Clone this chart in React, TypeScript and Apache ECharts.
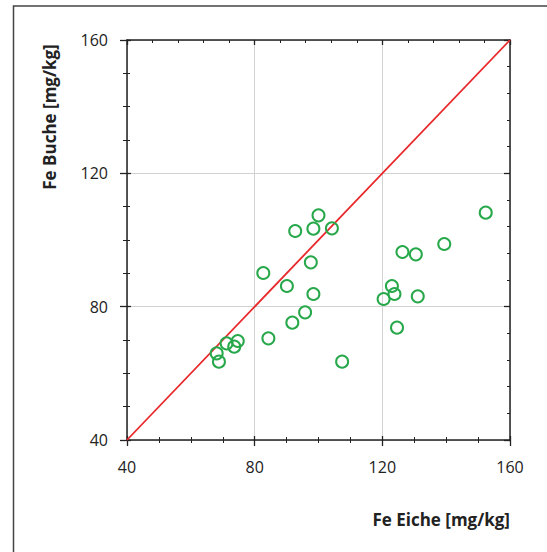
import React, { useEffect, useRef } from "react";
import * as echarts from "echarts";

const feEiche = [100.0, 92.7, 98.4, 104.2, 152.4, 139.4, 126.3, 130.5, 82.7, 97.6, 90.1, 98.4, 123.0, 123.8, 120.4, 131.1, 95.8, 91.8, 124.6, 84.3, 107.4, 71.2, 74.7, 73.6, 68.1, 68.8];
const feBuche = [107.4, 102.7, 103.4, 103.5, 108.2, 98.8, 96.4, 95.7, 90.1, 93.3, 86.2, 83.8, 86.2, 83.8, 82.3, 83.1, 78.3, 75.2, 73.7, 70.5, 63.5, 69.0, 69.7, 68.0, 66.0, 63.5];
const lineX = [40, 160];
const lineY = [40, 160];
const axisMin = 40;
const axisMax = 160;
const axisStep = 40;
const xTitle = "Fe Eiche [mg/kg]";
const yTitle = "Fe Buche [mg/kg]";

const FONT = "'Open Sans', 'Noto Sans', sans-serif";
const AXIS_COLOR = "#222";

function makeAxis(opts: any) {
  return {
    type: "value",
    min: axisMin,
    max: axisMax,
    interval: axisStep,
    axisLine: { show: opts.line ?? false, lineStyle: { color: AXIS_COLOR, width: 1.5 } },
    axisTick: {
      show: true,
      inside: opts.inside,
      length: opts.major,
      lineStyle: { color: AXIS_COLOR, width: 1.3 },
    },
    minorTick: {
      show: true,
      splitNumber: opts.split,
      length: opts.minor,
      lineStyle: { color: AXIS_COLOR, width: 1 },
    },
    axisLabel: opts.labels
      ? { show: true, color: "#222", fontSize: 16, fontFamily: FONT, margin: opts.margin }
      : { show: false },
    splitLine: opts.grid ? { show: true, lineStyle: { color: "#d2d2d2", width: 1 } } : { show: false },
    position: opts.position,
  };
}

export default function App() {
  const ref = useRef<HTMLDivElement>(null);
  useEffect(() => {
    if (!ref.current) return;
    const chart = echarts.init(ref.current, null, { renderer: "svg" });
    const scatterData = feEiche.map((x, i) => [x, feBuche[i]]);
    const lineData = lineX.map((x, i) => [x, lineY[i]]);
    chart.setOption({
      animation: false,
      grid: { left: 127, right: 37, top: 40, bottom: 112, containLabel: false },
      xAxis: [
        makeAxis({ position: "bottom", inside: false, major: 6, minor: 3, split: 4, labels: true, margin: 19, grid: true, line: true }),
        makeAxis({ position: "bottom", inside: true, major: 4, minor: 3, split: 4 }),
        makeAxis({ position: "top", inside: true, major: 5, minor: 3, split: 5, line: true }),
      ],
      yAxis: [
        makeAxis({ position: "left", inside: false, major: 7, minor: 4, split: 4, labels: true, margin: 19, grid: true, line: true }),
        makeAxis({ position: "left", inside: true, major: 4, minor: 3, split: 4 }),
        makeAxis({ position: "right", inside: true, major: 6, minor: 3, split: 5, line: true }),
      ],
      graphic: [
        {
          type: "rect",
          shape: { x: 13.5, y: 6, width: 700, height: 700 },
          style: { fill: "none", stroke: "#444", lineWidth: 1.5 },
          silent: true,
        },
        {
          type: "text",
          x: 510,
          y: 519,
          style: {
            text: xTitle,
            font: `bold 17px ${FONT}`,
            fill: "#222",
            align: "right",
            verticalAlign: "middle",
          },
        },
        {
          type: "text",
          x: 49,
          y: 117,
          rotation: Math.PI / 2,
          style: {
            text: yTitle,
            font: `bold 17px ${FONT}`,
            fill: "#222",
            align: "center",
            verticalAlign: "middle",
          },
        },
      ],
      series: [
        {
          type: "line",
          data: lineData,
          xAxisIndex: 0,
          yAxisIndex: 0,
          showSymbol: false,
          symbol: "none",
          lineStyle: { color: "#e8282b", width: 1.8 },
          z: 3,
        },
        {
          type: "scatter",
          data: scatterData,
          xAxisIndex: 0,
          yAxisIndex: 0,
          symbol: "circle",
          symbolSize: 12,
          itemStyle: { color: "rgba(255,255,255,0)", borderColor: "#27a84a", borderWidth: 2, opacity: 1 },
          z: 4,
        },
      ],
    });
    return () => chart.dispose();
  }, []);
  return (
    <div
      ref={ref}
      style={{ position: "fixed", left: 0, top: 0, width: 547, height: 552, background: "#fff" }}
    />
  );
}
